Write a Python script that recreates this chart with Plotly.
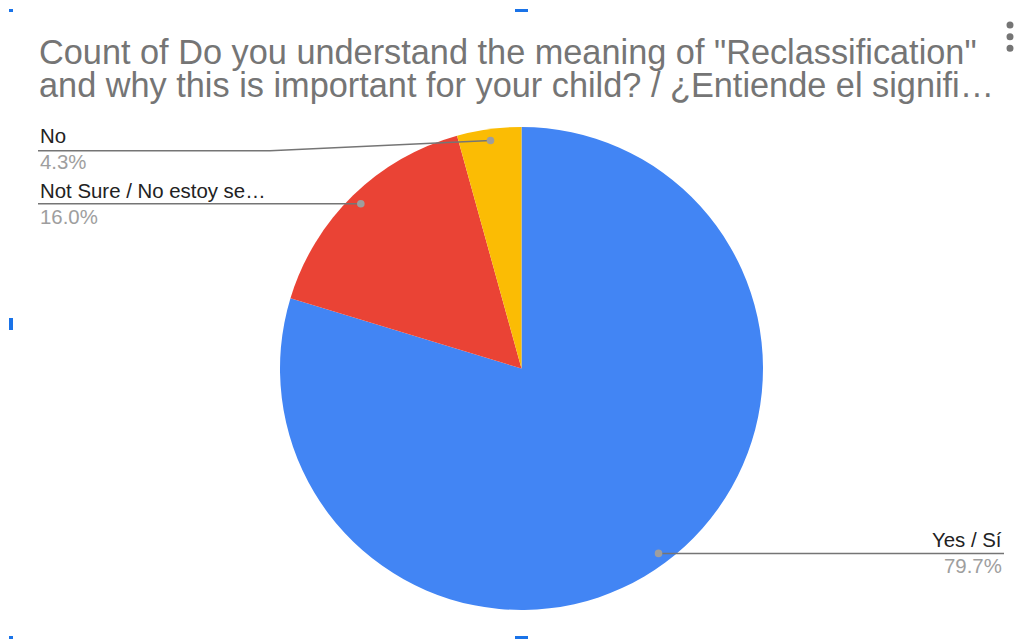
import math
import plotly.graph_objects as go

W, H = 1028, 639

# Data
labels = ["Yes / Sí", "Not Sure / No estoy se…", "No"]
values = [79.7, 16.0, 4.3]
colors = ["#4285F4", "#EA4335", "#FBBC04"]
title_lines = ['Count of Do you understand the meaning of "Reclassification"',
               'and why this is important for your child? / ¿Entiende el signifi…']

# Layout geometry (pixels)
cx, cy, R = 521.5, 368.5, 241.5
DOT_R = 0.953


def px(x):
    return x / W


def py(y):
    return 1 - y / H


fig = go.Figure(go.Pie(
    labels=labels, values=values, sort=False, direction="clockwise", rotation=0,
    marker=dict(colors=colors, line=dict(width=0)),
    textinfo="none", hoverinfo="label+percent", showlegend=False,
    domain=dict(x=[px(cx - R), px(cx + R)], y=[py(cy + R), py(cy - R)]),
))

# Dot positions from data
total = sum(values)
dots = []
acc = 0
for v in values:
    mid = (acc + v / 2) / total * 2 * math.pi
    acc += v
    dots.append((cx + DOT_R * R * math.sin(mid), cy - DOT_R * R * math.cos(mid)))

annotations = []
shapes = []

# Title: one text block, glyphs at ~34px, line pitch 33px
fs_t = 34.3
line_pitch = 33
title_text = "<br>".join(f'<span style="font-size:{fs_t}px">{t}</span>' for t in title_lines)
annotations.append(dict(text=title_text, x=px(37), y=py(68.5), xref="paper", yref="paper",
                        xanchor="left", yanchor="middle", showarrow=False, align="left",
                        font=dict(family="Liberation Sans, Arial", size=line_pitch / 1.3, color="#757575")))

fs = 20.4
# label specs: (index, anchor x, name baseline, line y, align side, bend x)
specs = [
    (2, 38, 143, 150.7, "left", 270),
    (1, 38, 198, 204.3, "left", None),
    (0, 1004, 547, 553.7, "right", None),
]
pct_fmt = [f"{v / total * 100:.1f}%" for v in values]
for idx, x0, base, ly, side, bend in specs:
    anchor = "left" if side == "left" else "right"
    annotations.append(dict(text=labels[idx], x=px(x0), y=py(base - 0.35 * fs), xref="paper", yref="paper",
                            xanchor=anchor, yanchor="middle", showarrow=False,
                            font=dict(family="Liberation Sans, Arial", size=fs, color="#222222")))
    annotations.append(dict(text=pct_fmt[idx], x=px(x0), y=py(base + 26 - 0.35 * fs), xref="paper", yref="paper",
                            xanchor=anchor, yanchor="middle", showarrow=False,
                            font=dict(family="Liberation Sans, Arial", size=fs, color="#9E9E9E")))
    dx, dy = dots[idx]
    if bend is not None:
        path = f"M {px(x0)} {py(ly)} L {px(bend)} {py(ly)} L {px(dx)} {py(dy)}"
    else:
        path = f"M {px(x0)} {py(dy)} L {px(dx)} {py(dy)}"
    shapes.append(dict(type="path", path=path, xref="paper", yref="paper",
                       line=dict(color="#757575", width=1.5)))
    r = 3.8
    shapes.append(dict(type="circle", xref="paper", yref="paper",
                       x0=px(dx - r), x1=px(dx + r), y0=py(dy + r), y1=py(dy - r),
                       fillcolor="#9E9E9E", line=dict(width=0)))

# Menu dots (kebab)
for yy in [25, 36.7, 48.3]:
    r = 3.5
    shapes.append(dict(type="circle", xref="paper", yref="paper",
                       x0=px(1010 - r), x1=px(1010 + r), y0=py(yy + r), y1=py(yy - r),
                       fillcolor="#757575", line=dict(width=0)))

# Selection handles
for (x0, y0, x1, y1) in [(9, 9, 13, 12), (515, 9, 528, 12), (9, 318, 13, 330),
                         (515, 636, 528, 639), (9, 636, 13, 639)]:
    shapes.append(dict(type="rect", xref="paper", yref="paper",
                       x0=px(x0), x1=px(x1), y0=py(y1), y1=py(y0),
                       fillcolor="#1A73E8", line=dict(width=0)))

fig.update_layout(
    width=W, height=H, margin=dict(l=0, r=0, t=0, b=0),
    paper_bgcolor="white", plot_bgcolor="white",
    annotations=annotations, shapes=shapes,
)

fig.write_html("out.html", config={"displayModeBar": False},
               post_script="document.body.style.margin='0';document.body.style.overflow='hidden';")
